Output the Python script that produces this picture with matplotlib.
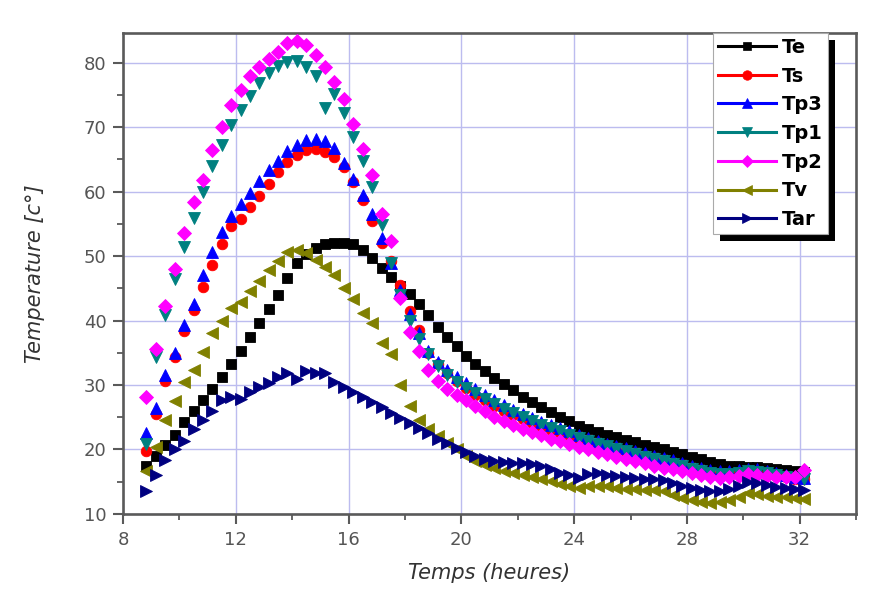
import matplotlib
matplotlib.use("Agg")
import matplotlib.pyplot as plt
from matplotlib.lines import Line2D
from matplotlib.patches import Rectangle
from matplotlib.ticker import MultipleLocator

# Sampling times (hours)
time_h = [8.83, 9.17, 9.5, 9.83, 10.17, 10.5, 10.83, 11.17, 11.5, 11.83,
          12.17, 12.5, 12.83, 13.17, 13.5, 13.83, 14.17, 14.5, 14.83, 15.17,
          15.5, 15.83, 16.17, 16.5, 16.83, 17.17, 17.5, 17.83, 18.17, 18.5,
          18.83, 19.17, 19.5, 19.83, 20.17, 20.5, 20.83, 21.17, 21.5, 21.83,
          22.17, 22.5, 22.83, 23.17, 23.5, 23.83, 24.17, 24.5, 24.83, 25.17,
          25.5, 25.83, 26.17, 26.5, 26.83, 27.17, 27.5, 27.83, 28.17, 28.5,
          28.83, 29.17, 29.5, 29.83, 30.17, 30.5, 30.83, 31.17, 31.5, 31.83,
          32.17]

te = [17.5, 19.0, 20.7, 22.3, 24.2, 25.9, 27.6, 29.4, 31.2, 33.2,
      35.2, 37.4, 39.6, 41.8, 44.0, 46.6, 49.0, 50.3, 51.3, 51.9,
      52.0, 52.1, 51.8, 50.9, 49.7, 48.2, 46.7, 45.3, 44.1, 42.6,
      40.8, 39.0, 37.5, 36.0, 34.5, 33.3, 32.2, 31.1, 30.1, 29.2,
      28.2, 27.3, 26.6, 25.8, 25.1, 24.4, 23.7, 23.2, 22.7, 22.3,
      21.9, 21.5, 21.1, 20.7, 20.4, 20.0, 19.6, 19.3, 18.9, 18.5,
      18.1, 17.8, 17.5, 17.4, 17.3, 17.3, 17.2, 17.0, 16.8, 16.6,
      16.5]

ts = [19.8, 25.5, 30.6, 34.3, 38.4, 41.6, 45.2, 48.6, 51.8, 54.6,
      55.8, 57.6, 59.3, 61.1, 63.0, 64.6, 65.6, 66.5, 66.6, 66.1,
      65.3, 63.8, 61.5, 58.7, 55.5, 52.0, 49.2, 45.5, 41.5, 38.5,
      35.0, 33.2, 31.8, 30.6, 29.5, 28.5, 27.6, 26.8, 26.0, 25.3,
      24.7, 24.1, 23.5, 23.0, 22.5, 22.0, 21.6, 21.1, 20.7, 20.3,
      19.9, 19.6, 19.2, 18.8, 18.4, 18.1, 17.7, 17.3, 16.9, 16.6,
      16.3, 16.1, 16.2, 16.4, 16.6, 16.4, 16.1, 15.9, 15.7, 15.5,
      15.4]

tp3 = [22.6, 26.4, 31.5, 35.0, 39.3, 42.6, 47.0, 50.6, 53.8, 56.2,
       58.0, 59.8, 61.6, 63.3, 64.8, 66.3, 67.3, 68.0, 68.2, 67.8,
       66.8, 64.5, 62.0, 59.4, 56.5, 52.8, 49.0, 44.8, 41.0, 38.0,
       35.3, 33.6, 32.3, 31.2, 30.3, 29.4, 28.5, 27.7, 26.9, 26.1,
       25.5, 24.9, 24.3, 23.8, 23.3, 22.8, 22.3, 21.8, 21.3, 20.9,
       20.6, 20.2, 19.8, 19.4, 19.0, 18.7, 18.3, 17.9, 17.5, 17.1,
       16.8, 16.6, 16.6, 16.8, 17.0, 16.9, 16.6, 16.3, 16.0, 15.8,
       15.6]

tp1 = [20.8, 34.3, 40.9, 46.5, 51.4, 55.9, 60.0, 64.0, 67.3, 70.4,
       72.6, 74.8, 76.9, 78.4, 79.5, 80.1, 80.2, 79.3, 77.9, 73.0,
       75.2, 72.2, 68.5, 64.7, 60.7, 54.8, 49.0, 44.0, 40.0, 37.2,
       34.8, 33.0, 31.6, 30.5, 29.6, 28.7, 27.9, 27.1, 26.3, 25.6,
       25.0, 24.4, 23.8, 23.3, 22.8, 22.3, 21.8, 21.3, 20.9, 20.5,
       20.1, 19.7, 19.3, 18.9, 18.5, 18.2, 17.8, 17.4, 17.0, 16.7,
       16.4, 16.2, 16.2, 16.4, 16.6, 16.5, 16.3, 16.0, 15.8, 15.6,
       15.5]

tp2 = [28.2, 35.6, 42.2, 48.0, 53.6, 58.4, 61.8, 66.4, 70.0, 73.5,
       75.8, 77.9, 79.4, 80.6, 81.7, 83.0, 83.4, 82.7, 81.2, 79.3,
       77.0, 74.3, 70.5, 66.6, 62.6, 56.5, 52.3, 43.5, 38.2, 35.2,
       32.3, 30.7, 29.4, 28.4, 27.6, 26.8, 25.9, 25.1, 24.4, 23.8,
       23.2, 22.7, 22.2, 21.7, 21.3, 20.8, 20.4, 20.0, 19.6, 19.3,
       18.9, 18.5, 18.2, 17.9, 17.5, 17.2, 16.9, 16.6, 16.3, 16.0,
       15.8, 15.6, 15.7, 15.9, 16.2, 16.0, 15.9, 15.8, 15.7, 15.8,
       16.8]

tv = [16.6, 20.4, 24.5, 27.5, 30.4, 32.4, 35.1, 38.0, 40.0, 42.0,
      42.8, 44.6, 46.2, 47.8, 49.3, 50.6, 51.0, 50.4, 49.4, 48.3,
      47.0, 45.0, 43.4, 41.1, 39.6, 36.5, 34.8, 30.0, 26.8, 24.6,
      23.2, 22.1, 21.0, 20.0, 19.0, 18.2, 17.6, 17.1, 16.7, 16.3,
      16.0, 15.7, 15.4, 15.1, 14.7, 14.3, 14.1, 14.3, 14.4, 14.3,
      14.1, 13.9, 13.8, 13.7, 13.7, 13.5, 13.0, 12.5, 12.2, 11.9,
      11.7, 11.8, 12.1, 12.6, 13.3, 13.1, 12.8, 12.6, 12.6, 12.4,
      12.3]

tar = [13.6, 16.1, 18.4, 20.1, 21.3, 23.2, 24.6, 26.0, 27.6, 28.2,
       27.8, 28.9, 29.7, 30.3, 31.2, 31.9, 30.9, 32.2, 31.9, 31.8,
       30.5, 29.7, 28.9, 28.1, 27.3, 26.6, 25.6, 24.9, 24.1, 23.3,
       22.5, 21.7, 21.0, 20.3, 19.6, 19.0, 18.5, 18.2, 18.0, 17.9,
       17.9, 17.8, 17.5, 17.0, 16.4, 16.0, 15.6, 16.2, 16.3, 16.1,
       15.9, 15.7, 15.6, 15.5, 15.4, 15.2, 14.8, 14.3, 14.0, 13.7,
       13.5, 13.5, 13.8, 14.3, 14.9, 14.8, 14.5, 14.2, 14.0, 13.8,
       13.7]

series_names = ["Te", "Ts", "Tp3", "Tp1", "Tp2", "Tv", "Tar"]
series_values = [te, ts, tp3, tp1, tp2, tv, tar]
colors = ["#000000", "#ff0000", "#0000ff", "#008080", "#ff00ff", "#808000", "#000080"]
markers = ["s", "o", "^", "v", "D", "<", ">"]
msizes = [6.6, 7.6, 8.3, 8.3, 6.8, 8.3, 8.3]

fig = plt.figure(figsize=(8.82, 5.92), dpi=100)
ax = fig.add_axes([0.1395, 0.1318, 0.8311, 0.8125])

handles = []
for name, vals, c, m, s in zip(series_names, series_values, colors, markers, msizes):
    ax.plot(time_h, vals, linestyle="none", marker=m, markersize=s,
            color=c, markeredgecolor=c, markeredgewidth=0.6, zorder=3)
    handles.append(Line2D([], [], color=c, lw=2.2, marker=m, markersize=s * 0.9,
                          markeredgecolor=c, markeredgewidth=0.5))

ax.set_xlim(8, 34)
ax.set_ylim(10, 84.6)
ax.xaxis.set_minor_locator(MultipleLocator(2))
ax.yaxis.set_major_locator(MultipleLocator(10))
ax.yaxis.set_minor_locator(MultipleLocator(5))
ax.set_xticks([8, 12, 16, 20, 24, 28, 32])

spine_col = "#5a5a5a"
for sp in ax.spines.values():
    sp.set_color(spine_col)
    sp.set_linewidth(1.9)

ax.tick_params(which="major", direction="out", length=7, width=1.5,
               color=spine_col, labelcolor="#555555", labelsize=13, pad=5)
ax.tick_params(which="minor", direction="out", length=4, width=1.3, color=spine_col)

ax.grid(True, which="major", color="#bcbcef", linewidth=1.0, zorder=0)
ax.set_axisbelow(True)

ax.set_xlabel("Temps (heures)", fontsize=15, style="italic", color="#333333", labelpad=10)
ax.set_ylabel("Temperature [c°]", fontsize=15, style="italic", color="#333333", labelpad=28)

leg = ax.legend(handles, series_names, loc="upper left", bbox_to_anchor=(0.805, 1.0),
                borderaxespad=0.0, prop={"weight": "bold", "size": 14},
                handlelength=3.0, handletextpad=0.3, labelspacing=0.5,
                borderpad=0.25, frameon=True, fancybox=False, framealpha=1.0)
leg.get_frame().set_edgecolor("#aaaaaa")
leg.get_frame().set_linewidth(0.8)
leg.set_zorder(6)

# Black drop shadow behind the legend box
fig.canvas.draw()
bb = leg.get_window_extent()
inv = ax.transAxes.inverted()
(x0, y0) = inv.transform((bb.x0 + 7, bb.y0 - 7))
(x1, y1) = inv.transform((bb.x1 + 7, bb.y1 - 7))
ax.add_patch(Rectangle((x0, y0), x1 - x0, y1 - y0, transform=ax.transAxes,
                       facecolor="black", edgecolor="none", zorder=5.5, clip_on=False))

fig.savefig("out.png", dpi=100)
